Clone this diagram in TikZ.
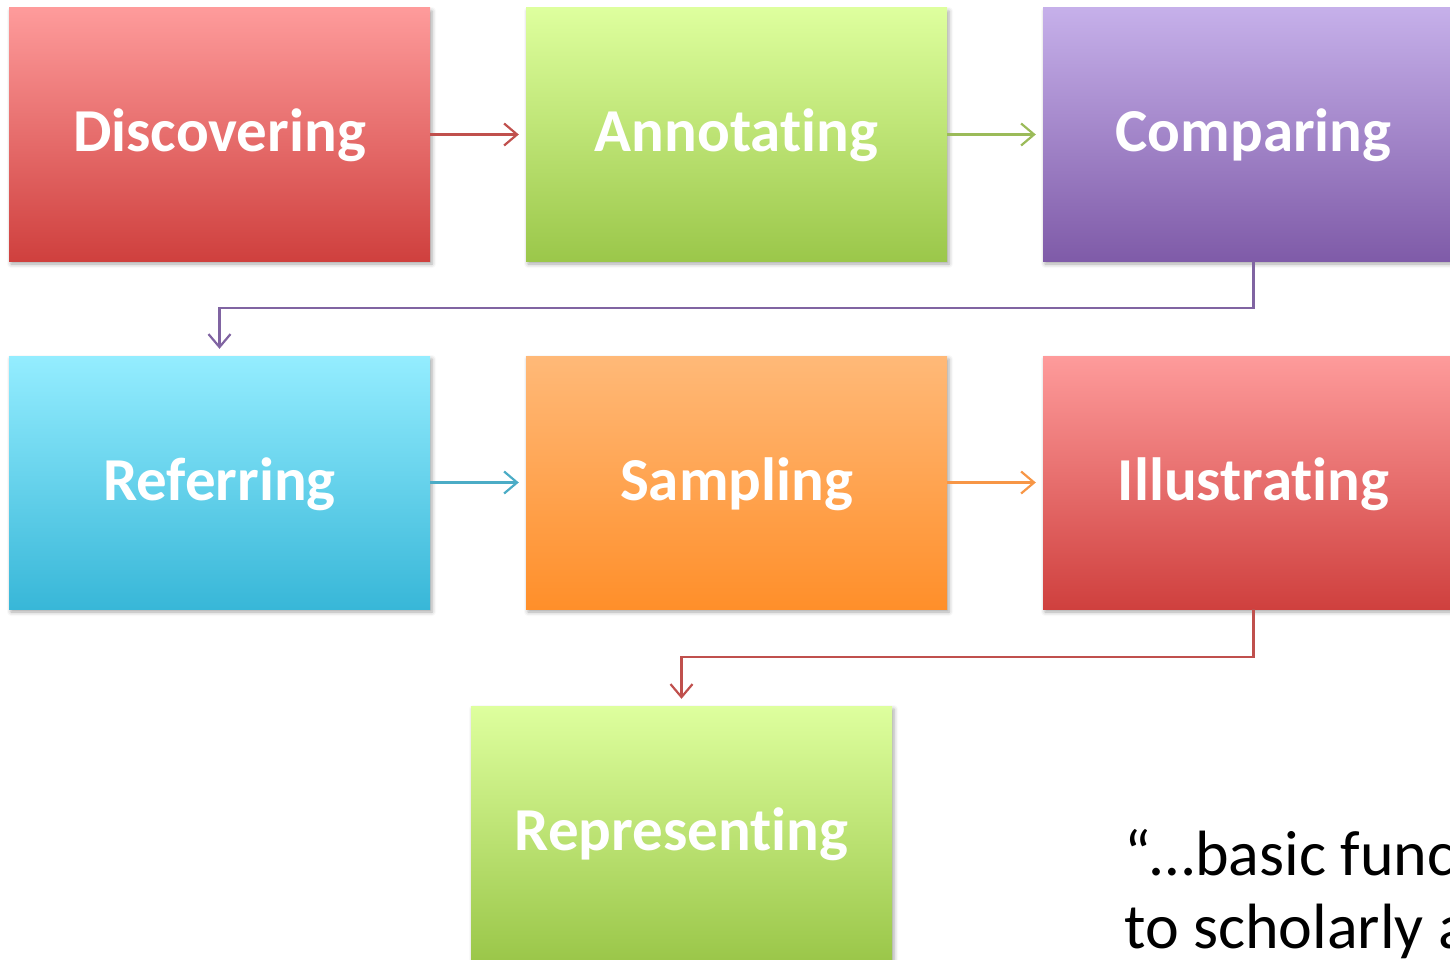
\documentclass[tikz,border=0pt]{standalone}
\usepackage{fontspec}
\setmainfont{Carlito}[Ligatures=NoCommon]
\usetikzlibrary{arrows.meta,shadows.blur,calc}
\definecolor{redTop}{RGB}{254,155,155}
\definecolor{redBot}{RGB}{207,64,62}
\definecolor{redLine}{RGB}{192,80,77}
\definecolor{grnTop}{RGB}{222,255,158}
\definecolor{grnBot}{RGB}{155,199,74}
\definecolor{grnLine}{RGB}{155,187,89}
\definecolor{purTop}{RGB}{198,176,234}
\definecolor{purBot}{RGB}{127,91,168}
\definecolor{purLine}{RGB}{128,100,162}
\definecolor{cyaTop}{RGB}{148,237,255}
\definecolor{cyaBot}{RGB}{56,183,216}
\definecolor{cyaLine}{RGB}{75,172,198}
\definecolor{oraTop}{RGB}{255,185,120}
\definecolor{oraBot}{RGB}{255,143,42}
\definecolor{oraLine}{RGB}{247,150,70}
\tikzset{
  box/.style={rectangle, minimum width=421pt, minimum height=253pt, inner sep=0pt,
    text=white, font=\bfseries\fontsize{61}{72}\selectfont, text height=45pt, text depth=10pt,
    blur shadow={shadow xshift=2pt, shadow yshift=-3pt, shadow blur radius=4pt, shadow opacity=35}},
  redbox/.style={box, top color=redTop, bottom color=redBot},
  grnbox/.style={box, top color=grnTop, bottom color=grnBot},
  purbox/.style={box, top color=purTop, bottom color=purBot},
  cyabox/.style={box, top color=cyaTop, bottom color=cyaBot},
  orabox/.style={box, top color=oraTop, bottom color=oraBot},
  conn/.style={line width=2.2pt, -{Straight Barb[length=13pt,width=22pt,line width=2.2pt]}, shorten >=7pt},
}
\begin{document}
\begin{tikzpicture}[x=1pt,y=-1pt]
\useasboundingbox (0,0) rectangle (1450,960);
\clip (0,0) rectangle (1450,960);
\node[redbox] (dis) at (219.5,134.5) {Discovering};
\node[grnbox] (ann) at (736.5,134.5) {Annotating};
\node[purbox] (com) at (1253.5,134.5) {Comparing};
\node[cyabox] (ref) at (219.5,482.5) {Referring};
\node[orabox] (sam) at (736.5,482.5) {Sampling};
\node[redbox] (ill) at (1253.5,482.5) {Illustrating};
\node[grnbox] (rep) at (681.5,832.5) {Representing};
\draw[conn, redLine] (dis.east) -- (ann.west);
\draw[conn, grnLine] (ann.east) -- (com.west);
\draw[conn, purLine] (com.south) -- ++(0,47) -| (ref.north);
\draw[conn, cyaLine] (ref.east) -- (sam.west);
\draw[conn, oraLine] (sam.east) -- (ill.west);
\draw[conn, redLine] (ill.south) -- ++(0,48) -| (rep.north);
\node[anchor=base west, inner sep=0pt, font=\fontsize{64}{73}\selectfont, align=left] (quote) at (1124,948)
  {“…basic func\\to scholarly a};
\end{tikzpicture}
\end{document}
